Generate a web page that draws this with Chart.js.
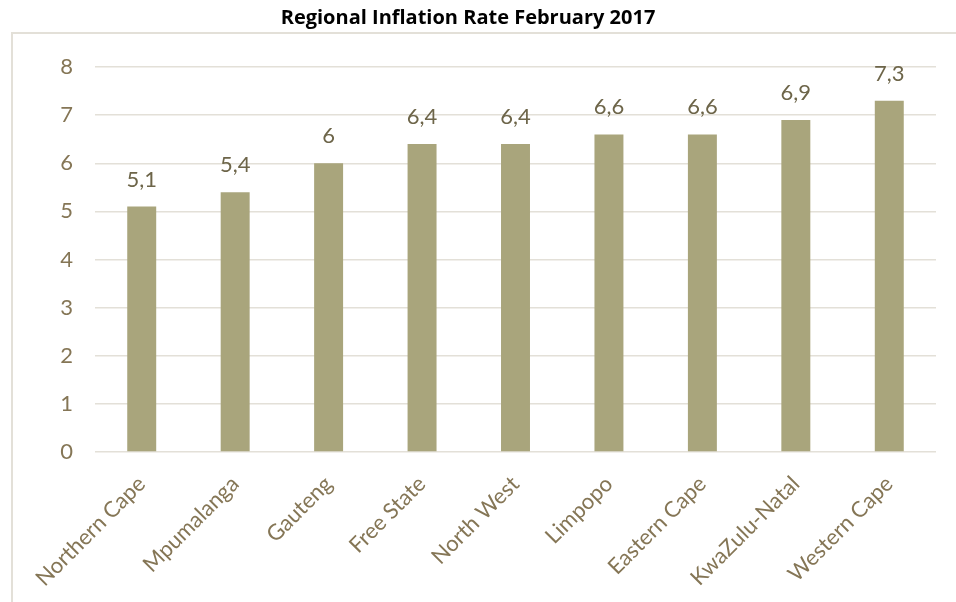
<!DOCTYPE html>
<html>
<head>
<meta charset="utf-8">
<script src="https://cdn.jsdelivr.net/npm/chart.js@4"></script>
<style>
  html, body { margin: 0; padding: 0; background: #fff; overflow: hidden; }
  #frame { position: absolute; left: 11px; top: 32px; width: 980px; height: 620px; border: 2px solid #e3e0d8; box-sizing: border-box; }
  #wrap { position: absolute; left: 0; top: 0; width: 956px; height: 602px; }
</style>
</head>
<body>
<div id="frame"></div>
<div id="wrap"><canvas id="chart"></canvas></div>
<script>
/* Regional inflation bar chart */

const regions = ['Northern Cape', 'Mpumalanga', 'Gauteng', 'Free State', 'North West', 'Limpopo', 'Eastern Cape', 'KwaZulu-Natal', 'Western Cape'];
const rates = [5.1, 5.4, 6, 6.4, 6.4, 6.6, 6.6, 6.9, 7.3];
const yTicks = [0, 1, 2, 3, 4, 5, 6, 7, 8];

const FONT = 'Lato, "Open Sans", sans-serif';

// value labels above bars, comma decimal
const barLabels = {
  id: 'barLabels',
  afterDatasetsDraw(chart) {
    const ctx = chart.ctx;
    const meta = chart.getDatasetMeta(0);
    ctx.save();
    ctx.font = '22px ' + FONT;
    ctx.fillStyle = '#6d6549';
    ctx.textAlign = 'center';
    ctx.textBaseline = 'middle';
    meta.data.forEach((bar, i) => {
      ctx.fillText(String(rates[i]).replace('.', ','), bar.x, bar.y - 27);
    });
    ctx.restore();
  }
};

new Chart(document.getElementById('chart'), {
  type: 'bar',
  data: {
    labels: regions,
    datasets: [{
      data: rates,
      backgroundColor: '#a9a57c',
      barPercentage: 0.31,
      categoryPercentage: 1,
    }]
  },
  options: {
    responsive: true,
    maintainAspectRatio: false,
    animation: false,
    layout: { padding: { left: 0, right: 20, top: 0, bottom: 0 } },
    scales: {
      x: {
        grid: { display: false },
        border: { display: false },
        ticks: {
          color: '#857656',
          font: { family: FONT, size: 22 },
          minRotation: 45,
          maxRotation: 45,
          padding: 11,
        },
        afterFit: s => { s.height = 150; }
      },
      y: {
        min: 0,
        max: 8,
        afterBuildTicks: s => { s.ticks = yTicks.map(v => ({ value: v })); },
        grid: { color: '#e3e0d8', lineWidth: 1.5, drawTicks: false },
        border: { display: false },
        ticks: {
          color: '#857656',
          font: { family: FONT, size: 22 },
          padding: 22,
        },
        afterFit: s => { s.width = 95; }
      }
    },
    plugins: {
      legend: { display: false },
      tooltip: { enabled: false },
      title: {
        display: true,
        text: 'Regional Inflation Rate February 2017',
        color: '#000',
        font: { family: '"Open Sans", sans-serif', size: 20, weight: 'bold' },
        padding: { top: 6, bottom: 37 }
      }
    }
  },
  plugins: [barLabels]
});
</script>
</body>
</html>
